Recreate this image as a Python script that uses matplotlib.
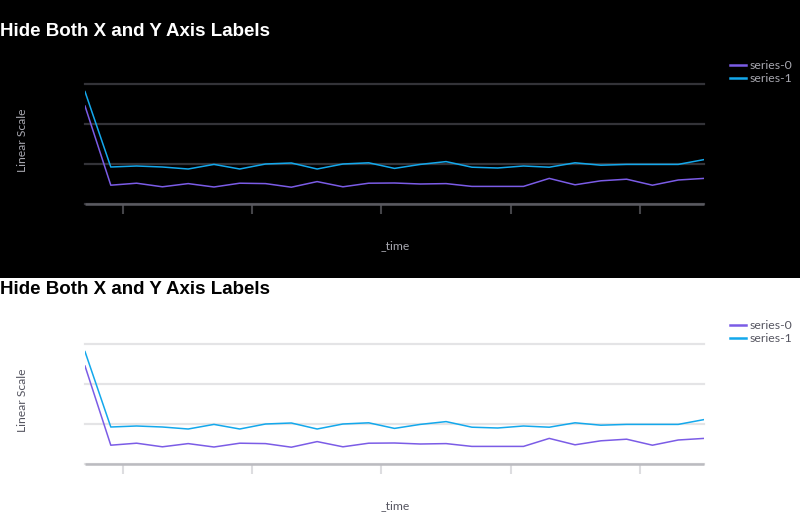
import matplotlib
matplotlib.use("Agg")
import matplotlib.pyplot as plt
from matplotlib.patches import Rectangle

# values, in grid units (gridlines at 0, 1, 2, 3)
series_0 = [2.45, 0.47, 0.52, 0.43, 0.51, 0.425, 0.52, 0.51, 0.42, 0.56, 0.43, 0.52, 0.525,
            0.50, 0.51, 0.44, 0.44, 0.44, 0.64, 0.48, 0.58, 0.62, 0.47, 0.60, 0.64]
series_1 = [2.81, 0.925, 0.95, 0.925, 0.875, 0.99, 0.875, 1.0, 1.025, 0.875, 1.0, 1.03, 0.89,
            0.99, 1.06, 0.92, 0.90, 0.95, 0.92, 1.03, 0.97, 0.99, 0.99, 0.99, 1.11]
labels = ["series-0", "series-1"]
time_ticks = [1.47, 6.47, 11.47, 16.5, 21.5]
y_grid = [0, 1, 2, 3]

colors = ["#7B5CE6", "#13A8EC"]
W, H = 800, 519
fig = plt.figure(figsize=(8, 5.19), dpi=100)
fig.patch.set_facecolor("white")
# black backdrop for the dark-themed panel
fig.add_artist(Rectangle((0, 1 - 278 / H), 1, 278 / H, transform=fig.transFigure,
                         facecolor="black", edgecolor="none", zorder=0))

themes = [
    dict(top=84, title_y=31, bg="black", fg="white", text="#A8A8B0", grid="#333338",
         axis="#5A5A60", tick="#444448"),
    dict(top=344, title_y=290, bg="white", fg="black", text="#555560", grid="#E4E4E6",
         axis="#BBBBC0", tick="#DDDDE0"),
]

x = list(range(len(series_0)))
for th in themes:
    top = th["top"]
    ax = fig.add_axes([85 / W, 1 - (top + 120) / H, 619 / W, 120 / H])
    ax.set_facecolor(th["bg"])
    ax.patch.set_alpha(0)
    for ys, c, lab in zip([series_0, series_1], colors, labels):
        ax.plot(x, ys, color=c, lw=1.1, label=lab, zorder=3)
    ax.set_xlim(0, len(x) - 1)
    ax.set_ylim(0, 3)
    ax.set_yticks(y_grid)
    ax.yaxis.grid(True, color=th["grid"], lw=1.6, zorder=1)
    for gl in ax.get_ygridlines():
        gl.set_clip_on(False)
    ax.tick_params(axis="y", length=0, labelleft=False)
    ax.set_xticks(time_ticks)
    ax.tick_params(axis="x", length=7.5, width=1.5, color=th["tick"], labelbottom=False)
    for s in ["top", "left", "right"]:
        ax.spines[s].set_visible(False)
    ax.spines["bottom"].set_color(th["axis"])
    ax.spines["bottom"].set_linewidth(1.8)
    ax.spines["bottom"].set_capstyle("butt")
    ax.spines["bottom"].set_zorder(2)

    fig.text(0, 1 - th["title_y"] / H, "Hide Both X and Y Axis Labels", color=th["fg"],
             fontsize=13.5, fontweight="bold", family="Liberation Sans", va="center", ha="left")
    fig.text(22 / W, 1 - (top + 56) / H, "Linear Scale", rotation=90, color=th["text"],
             fontsize=8.7, family="Lato", va="center", ha="center")
    fig.text(395 / W, 1 - (top + 162) / H, "_time", color=th["text"],
             fontsize=8.7, family="Lato", va="center", ha="center")
    leg = ax.legend(loc="upper left", bbox_to_anchor=(730 / W, 1 - (top - 24) / H),
                    bbox_transform=fig.transFigure, frameon=False,
                    handlelength=1.3, handletextpad=0.33, labelspacing=0.2, borderpad=0,
                    borderaxespad=0, prop={"family": "Lato", "size": 8.8})
    for t in leg.get_texts():
        t.set_color(th["text"])
    for l in leg.get_lines():
        l.set_linewidth(1.8)

fig.savefig("out.png", dpi=100, facecolor=fig.get_facecolor())
